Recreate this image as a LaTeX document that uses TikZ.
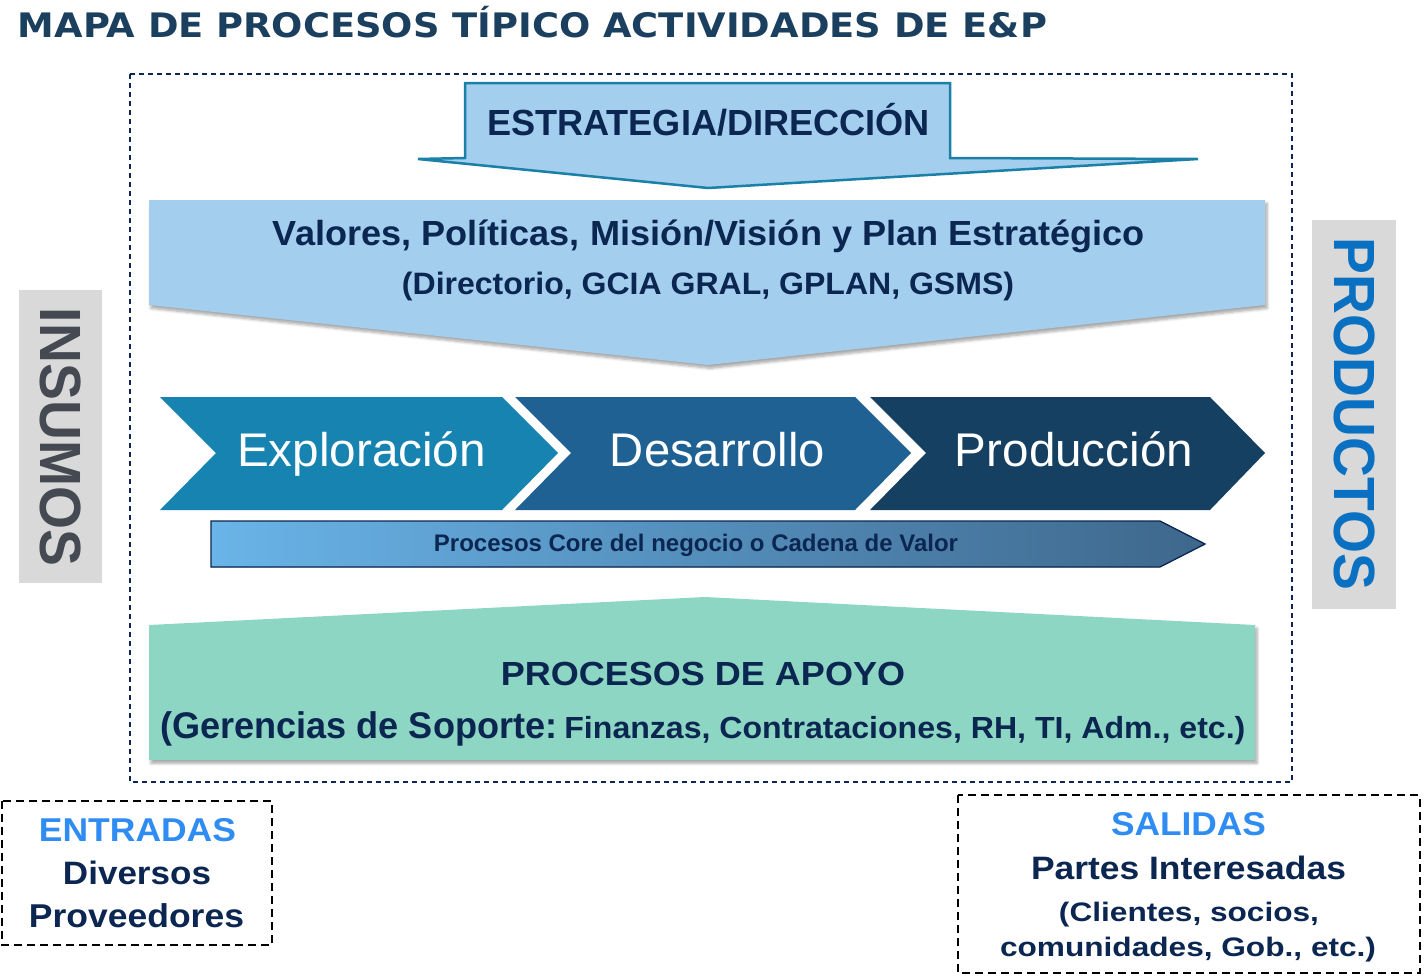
\documentclass[tikz,border=0pt]{standalone}
\usepackage{fontspec}
\setmainfont{Liberation Sans}
\newfontfamily\titlefont{DejaVu Sans}
\usepackage{graphicx}
\usetikzlibrary{shadows.blur}
\newdimen\px \px=0.75pt
\newcommand\fit[3]{\resizebox{#1\px}{#2\px}{\raisebox{0pt}[\fontcharht\font`H][0pt]{#3}}}
\definecolor{navy}{HTML}{0B2650}
\definecolor{titleblue}{HTML}{1B3F5E}
\definecolor{lightblue}{HTML}{A3CEEE}
\definecolor{tealstroke}{HTML}{1A80A8}
\definecolor{chevA}{HTML}{1783B0}
\definecolor{chevB}{HTML}{1E6192}
\definecolor{chevC}{HTML}{164062}
\definecolor{coreL}{HTML}{69B4E8}
\definecolor{coreR}{HTML}{3E678C}
\definecolor{mint}{HTML}{8DD6C3}
\definecolor{boxgray}{HTML}{D9D9D9}
\definecolor{brightblue}{HTML}{2F8CF2}
\definecolor{prodblue}{HTML}{0A70C2}
\definecolor{insgray}{HTML}{454A52}
\tikzset{
  txt/.style={anchor=south, inner sep=0pt, font=\bfseries, text=navy},
  softshadow/.style={blur shadow={shadow xshift=1.5pt, shadow yshift=-2.5pt, shadow blur steps=6, shadow opacity=35}},
  outerbox/.style={draw=navy, line width=2\px, dash pattern=on 5\px off 4\px},
  iobox/.style={draw=black, line width=2\px, dash pattern=on 8\px off 5\px},
}
\begin{document}
\begin{tikzpicture}[x=0.75pt, y=-0.75pt]
\useasboundingbox (0,0) rectangle (1427,978);

% title
\node[txt, font=\titlefont\bfseries, text=titleblue] (title) at (532.5,37.3) {\fit{1029}{24.6}{MAPA DE PROCESOS TÍPICO ACTIVIDADES DE E\&P}};

% outer dashed frame
\draw[outerbox] (130,74) rectangle (1292,782);

% strategy arrow
\filldraw[fill=lightblue, draw=tealstroke, line width=2.5\px, line join=miter]
  (465,83) -- (950,83) -- (950,158) -- (1198,159) -- (708,188) -- (418,159) -- (465,158) -- cycle;
\node[txt] (estr) at (708.5,135.5) {\fit{443}{25}{ESTRATEGIA/DIRECCIÓN}};

% values chevron
\fill[lightblue, softshadow] (149,200) -- (1265,200) -- (1265,305) -- (708,365) -- (149,305) -- cycle;
\node[txt] (val1) at (709,245.5) {\fit{872}{24}{Valores, Políticas, Misión/Visión y Plan Estratégico}};
\node[txt] (val2) at (708,294.5) {\fit{612}{21.3}{(Directorio, GCIA GRAL, GPLAN, GSMS)}};

% value chain chevrons
\fill[chevA] (160,397) -- (502,397) -- (558,453) -- (502,510) -- (160,510) -- (216,453) -- cycle;
\fill[chevB] (515,397) -- (855,397) -- (911,453) -- (855,510) -- (515,510) -- (571,453) -- cycle;
\fill[chevC] (870,397) -- (1210,397) -- (1265,453) -- (1210,510) -- (870,510) -- (926,453) -- cycle;
\node[txt, font=\mdseries, text=white] (expl) at (361.5,467) {\fit{249}{32.5}{Exploración}};
\node[txt, font=\mdseries, text=white] (desa) at (717.5,467) {\fit{215}{32.5}{Desarrollo}};
\node[txt, font=\mdseries, text=white] (prod) at (1074,467) {\fit{238}{32.5}{Producción}};

% core arrow
\filldraw[left color=coreL, right color=coreR, draw=navy, line width=1.3\px]
  (211,521) -- (1160,521) -- (1205,544) -- (1160,567) -- (211,567) -- cycle;
\node[txt] (core) at (696,551.5) {\fit{524}{16.5}{Procesos Core del negocio o Cadena de Valor}};

% support processes
\fill[mint, softshadow] (149,625) -- (705,597) -- (1255,625) -- (1255,760) -- (149,760) -- cycle;
\node[txt] (apo1) at (703,685.5) {\fit{404}{23}{PROCESOS DE APOYO}};
\node[txt, anchor=south west] (apo2) at (160,738.5) {\fit{397}{25.5}{(Gerencias de Soporte:}\hspace{7\px}\fit{681}{21}{Finanzas, Contrataciones, RH, TI, Adm., etc.)}};

% side labels
\fill[boxgray] (19,290) rectangle (102,583);
\node[inner sep=0pt, font=\bfseries, text=insgray, rotate=-90] (ins) at (61,437) {\fit{258}{40}{INSUMOS}};
\fill[boxgray] (1312,220) rectangle (1396,609);
\node[inner sep=0pt, font=\bfseries, text=prodblue, rotate=-90] (prods) at (1354,414) {\fit{352}{40}{PRODUCTOS}};

% inputs box
\draw[iobox] (2,801) rectangle (272,945);
\node[txt, text=brightblue] (entr) at (137.5,841.7) {\fit{197}{22.7}{ENTRADAS}};
\node[txt] (div) at (137,885) {\fit{148}{22.3}{Diversos}};
\node[txt] (prov) at (136.5,927.7) {\fit{215}{22.7}{Proveedores}};

% outputs box
\draw[iobox] (958,795) rectangle (1419.5,973);
\node[txt, text=brightblue] (sal) at (1188.5,835.7) {\fit{155}{22.7}{SALIDAS}};
\node[txt] (part) at (1188.5,880) {\fit{315}{22.3}{Partes Interesadas}};
\node[txt] (cli) at (1189,921.7) {\fit{260}{18.4}{(Clientes, socios,}};
\node[txt] (com) at (1188,956.7) {\fit{376}{18.4}{comunidades, Gob., etc.)}};
\end{tikzpicture}
\end{document}
